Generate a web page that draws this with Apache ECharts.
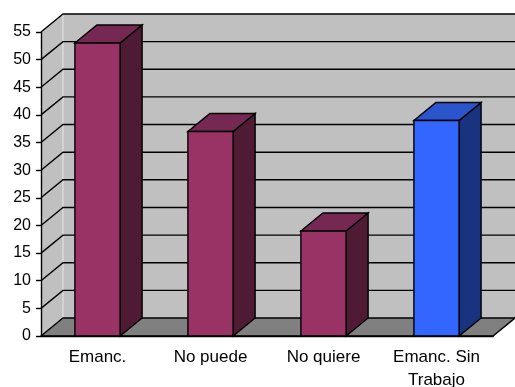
<!DOCTYPE html>
<html>
<head>
<meta charset="utf-8">
<script src="https://cdn.jsdelivr.net/npm/echarts@6/dist/echarts.min.js"></script>
<style>
html, body { margin: 0; padding: 0; background: #fff; }
#chart { width: 515px; height: 387px; }
</style>
</head>
<body>
<div id="chart"></div>
<script>
// datos
var categories = ['Emanc.', 'No puede', 'No quiere', 'Emanc. Sin\nTrabajo'];
var values = [53, 37, 19, 39];
var yTicks = [0, 5, 10, 15, 20, 25, 30, 35, 40, 45, 50, 55];

// estilo 3D (profundidad en px)
var DX = 22, DY = -18;
var purple = { front: '#993366', top: '#742852', side: '#4e1a34' };
var blue = { front: '#3366ff', top: '#2a55cc', side: '#1a3380' };
var line = { stroke: '#000', lineWidth: 1.4 };

var chart = echarts.init(document.getElementById('chart'));

// paredes, suelo y rejilla
function renderWalls(params, api) {
	var cs = params.coordSys;
	var L = cs.x, R = cs.x + cs.width;
	var y0 = api.coord([0, 0])[1];
	var yTop = api.coord([0, yTicks[yTicks.length - 1]])[1];
	var children = [];
	children.push({
		type: 'polygon',
		shape: { points: [[L, y0], [L, yTop], [L + DX, yTop + DY], [L + DX, y0 + DY]] },
		style: { fill: '#c0c0c0' }
	});
	children.push({
		type: 'rect',
		shape: { x: L + DX, y: yTop + DY, width: R - L, height: y0 - yTop },
		style: { fill: '#c0c0c0' }
	});
	children.push({
		type: 'line',
		shape: { x1: L + DX, y1: yTop + DY, x2: L + DX, y2: y0 + DY },
		style: { stroke: '#e6e6e6', lineWidth: 1 }
	});
	yTicks.forEach(function(t) {
		if (t === 0) return;
		var y = api.coord([0, t])[1];
		children.push({
			type: 'polyline',
			shape: { points: [[L, y], [L + DX, y + DY], [R + DX, y + DY]] },
			style: { stroke: '#000', lineWidth: line.lineWidth, fill: null }
		});
	});
	children.push({
		type: 'polygon',
		shape: { points: [[L, y0], [R, y0], [R + DX, y0 + DY], [L + DX, y0 + DY]] },
		style: { fill: '#808080', stroke: '#000', lineWidth: line.lineWidth }
	});
	return { type: 'group', children: children };
}

// barras 3D
function renderBar(params, api) {
	var i = api.value(0);
	var top = api.coord([i, api.value(1)]);
	var bottom = api.coord([i, 0]);
	var w = api.size([1, 0])[0] * 0.4;
	var xl = top[0] - w / 2, xr = top[0] + w / 2;
	var yt = top[1], yb = bottom[1];
	var c = i === 3 ? blue : purple;
	return {
		type: 'group',
		children: [{
			type: 'polygon',
			shape: { points: [[xr, yt], [xr + DX, yt + DY], [xr + DX, yb + DY], [xr, yb]] },
			style: { fill: c.side, stroke: line.stroke, lineWidth: line.lineWidth }
		}, {
			type: 'polygon',
			shape: { points: [[xl, yt], [xl + DX, yt + DY], [xr + DX, yt + DY], [xr, yt]] },
			style: { fill: c.top, stroke: line.stroke, lineWidth: line.lineWidth }
		}, {
			type: 'rect',
			shape: { x: xl, y: yt, width: w, height: yb - yt },
			style: { fill: c.front, stroke: line.stroke, lineWidth: line.lineWidth }
		}]
	};
}

option = {
	animation: false,
	backgroundColor: '#fff',
	grid: { left: 41, right: 22, top: 32, bottom: 51, containLabel: false, outerBoundsMode: 'none' },
	xAxis: {
		type: 'category',
		data: categories,
		z: 10,
		axisLine: { lineStyle: { color: '#000', width: line.lineWidth } },
		axisTick: { length: 7, lineStyle: { color: '#000', width: line.lineWidth } },
		axisLabel: {
			interval: 0, margin: 10, color: '#000',
			fontFamily: 'Liberation Sans', fontSize: 17, lineHeight: 23
		}
	},
	yAxis: {
		type: 'value',
		min: 0, max: 55, interval: 5,
		z: 10,
		splitLine: { show: false },
		axisLine: { show: true, lineStyle: { color: '#000', width: line.lineWidth } },
		axisTick: { show: true, length: 5, lineStyle: { color: '#000', width: line.lineWidth } },
		axisLabel: { margin: 10, color: '#000', fontFamily: 'Liberation Sans', fontSize: 16 }
	},
	series: [{
		type: 'custom',
		renderItem: renderWalls,
		data: [[0, 0]],
		silent: true,
		z: 1
	}, {
		type: 'custom',
		renderItem: renderBar,
		encode: { x: 0, y: 1 },
		data: values.map(function(v, i) { return [i, v]; }),
		z: 3
	}]
};
chart.setOption(option);
</script>
</body>
</html>
